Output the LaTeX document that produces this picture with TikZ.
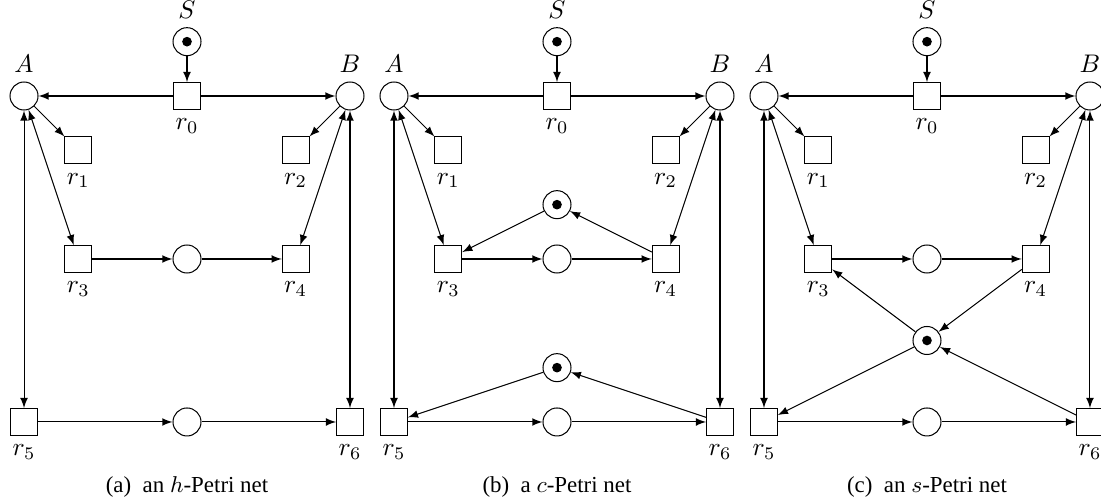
\documentclass[tikz,border=0pt]{standalone}
\usepackage{fontspec}
\newfontfamily\capfont{Liberation Serif}
\begin{document}
\begin{tikzpicture}[x=0.75cm, y=0.75cm, >=latex,
		place/.style={circle, draw, thin, minimum size=11pt, inner sep=0pt},
		marked/.style={place, path picture={\fill (path picture bounding box.center) circle (1.9pt);}},
		transition/.style={rectangle, draw, thin, minimum size=10.5pt, inner sep=0pt},
		caption/.style={font=\capfont\small}]
			\useasboundingbox (-0.442, 1.767) rectangle (19.823, -7.473);
			\foreach \p/\sx/\cap in {a/0/{(a)\enspace an $h$-Petri net}, b/6.81/{(b)\enspace a $c$-Petri net}, c/13.62/{(c)\enspace an $s$-Petri net}}
			{
				\begin{scope}[shift={(\sx, 0)}]
					\node[marked, label=above:$S$] (S\p) at (3, 1) {};
					\node[place, label=above:$A$] (A\p) at (0, 0) {};
					\node[place, label=above:$B$] (B\p) at (6, 0) {};
					\node[transition, label=below:$r_0$] (r0\p) at (3, 0) {};
					\node[transition, label=below:$r_1$] (r1\p) at (1, -1) {};
					\node[transition, label=below:$r_2$] (r2\p) at (5, -1) {};
					\node[transition, label=below:$r_3$] (r3\p) at (1, -3) {};
					\node[transition, label=below:$r_4$] (r4\p) at (5, -3) {};
					\node[transition, label=below:$r_5$] (r5\p) at (0, -6) {};
					\node[transition, label=below:$r_6$] (r6\p) at (6, -6) {};
					\node[place] (M3\p) at (3, -3) {};
					\node[place] (M5\p) at (3, -6) {};
					\node[caption] (cap\p) at (3, -7.2) {\cap};
					\draw[->] (S\p) -- (r0\p);
					\draw[->] (r0\p) -- (A\p);
					\draw[->] (r0\p) -- (B\p);
					\draw[->] (A\p) -- (r1\p);
					\draw[->] (B\p) -- (r2\p);
					\draw[<->] (A\p) -- (r3\p);
					\draw[<->] (B\p) -- (r4\p);
					\draw[<->] (A\p) -- (r5\p);
					\draw[<->] (B\p) -- (r6\p);
					\draw[->] (r3\p) -- (M3\p);
					\draw[->] (M3\p) -- (r4\p);
					\draw[->] (r5\p) -- (M5\p);
					\draw[->] (M5\p) -- (r6\p);
				\end{scope}
			}
			\begin{scope}[shift={(6.81, 0)}]
				\node[marked] (T3b) at (3, -2) {};
				\node[marked] (T5b) at (3, -5) {};
				\draw[->] (r4b) -- (T3b);
				\draw[->] (T3b) -- (r3b);
				\draw[->] (r6b) -- (T5b);
				\draw[->] (T5b) -- (r5b);
			\end{scope}
			\begin{scope}[shift={(13.62, 0)}]
				\node[marked] (Tc) at (3, -4.5) {};
				\draw[->] (r4c) -- (Tc);
				\draw[->] (Tc) -- (r3c);
				\draw[->] (Tc) -- (r5c);
				\draw[->] (r6c) -- (Tc);
			\end{scope}
		\end{tikzpicture}
\end{document}
